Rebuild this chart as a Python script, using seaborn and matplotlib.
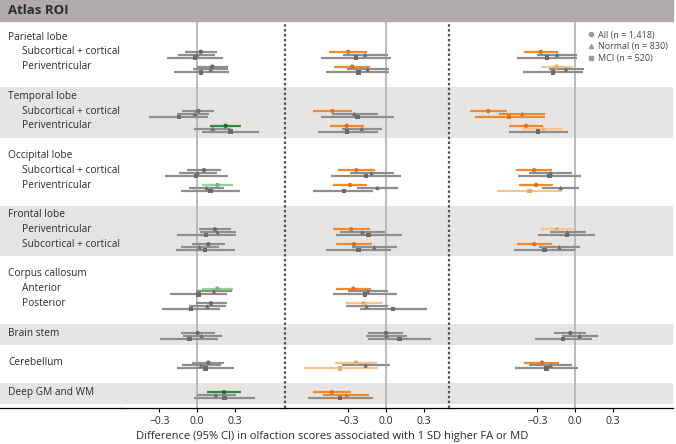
import matplotlib
matplotlib.use('Agg')
import matplotlib.pyplot as plt
from matplotlib.patches import Rectangle
from matplotlib.lines import Line2D
import seaborn as sns
import pandas as pd

# ---------------------------------------------------------------- data
groups = ['Parietal lobe', 'Temporal lobe', 'Occipital lobe', 'Frontal lobe',
          'Corpus callosum', 'Brain stem', 'Cerebellum', 'Deep GM and WM']
subrows = [['Subcortical + cortical', 'Periventricular'],
           ['Subcortical + cortical', 'Periventricular'],
           ['Subcortical + cortical', 'Periventricular'],
           ['Periventricular', 'Subcortical + cortical'],
           ['Anterior', 'Posterior'],
           [], [], []]
cohorts = ['All', 'Normal', 'MCI']
cohort_labels = ['All (n = 1,418)', 'Normal (n = 830)', 'MCI (n = 520)']
panels = ['WM FA', 'WM MD', 'GM MD']

# (estimate, lower, upper), one per data row, top to bottom
fa_all = [(0.030, -0.095, 0.157), (0.122, -0.003, 0.244), (0.011, -0.117, 0.138),
          (0.228, 0.103, 0.350), (0.056, -0.077, 0.191), (0.162, 0.037, 0.289),
          (0.143, 0.016, 0.268), (0.090, -0.037, 0.223), (0.162, 0.037, 0.284),
          (0.111, -0.011, 0.241), (0.005, -0.127, 0.143), (0.090, -0.042, 0.217),
          (0.215, 0.082, 0.350)]
fa_normal = [(0.000, -0.149, 0.143), (0.109, -0.029, 0.249), (-0.016, -0.162, 0.098),
             (0.125, -0.021, 0.270), (0.005, -0.143, 0.157), (0.077, -0.061, 0.215),
             (0.164, 0.024, 0.310), (0.021, -0.130, 0.175), (0.135, -0.008, 0.276),
             (0.082, -0.064, 0.231), (0.037, -0.114, 0.196), (0.032, -0.122, 0.188),
             (0.151, -0.003, 0.310)]
fa_mci = [(-0.016, -0.241, 0.209), (0.034, -0.183, 0.255), (-0.143, -0.379, 0.090),
          (0.268, 0.042, 0.493), (-0.008, -0.255, 0.244), (0.106, -0.130, 0.342),
          (0.074, -0.156, 0.310), (0.066, -0.167, 0.300), (0.011, -0.215, 0.236),
          (-0.048, -0.276, 0.183), (-0.061, -0.294, 0.170), (0.069, -0.156, 0.297),
          (0.220, -0.021, 0.461)]
fa_sig = ['nnn', 'nnn', 'nnn', 'gnn', 'nnn', 'hnn', 'nnn', 'nnn', 'hnn', 'nnn',
          'nnn', 'nnn', 'gnn']

md_all = [(-0.300, -0.451, -0.149), (-0.268, -0.411, -0.127), (-0.427, -0.583, -0.273),
          (-0.313, -0.446, -0.175), (-0.236, -0.384, -0.088), (-0.286, -0.424, -0.149),
          (-0.276, -0.419, -0.127), (-0.255, -0.398, -0.114), (-0.260, -0.400, -0.122),
          (-0.177, -0.321, -0.034), (0.000, -0.141, 0.138), (-0.239, -0.406, -0.069),
          (-0.432, -0.578, -0.278)]
md_normal = [(-0.167, -0.345, 0.013), (-0.146, -0.313, 0.024), (-0.252, -0.432, -0.066),
             (-0.193, -0.352, -0.034), (-0.114, -0.286, 0.064), (-0.069, -0.233, 0.093),
             (-0.188, -0.366, -0.008), (-0.093, -0.268, 0.085), (-0.143, -0.305, 0.019),
             (-0.154, -0.318, 0.013), (0.005, -0.159, 0.170), (-0.162, -0.353, 0.032),
             (-0.313, -0.499, -0.133)]
md_mci = [(-0.241, -0.515, 0.037), (-0.220, -0.477, 0.024), (-0.228, -0.515, 0.064),
          (-0.308, -0.543, -0.066), (-0.159, -0.438, 0.119), (-0.334, -0.583, -0.101),
          (-0.138, -0.400, 0.125), (-0.220, -0.477, 0.037), (-0.167, -0.419, 0.085),
          (0.058, -0.207, 0.324), (0.106, -0.141, 0.358), (-0.366, -0.652, -0.061),
          (-0.366, -0.618, -0.106)]
md_sig = ['onn', 'onn', 'onn', 'onn', 'onn', 'onn', 'onn', 'onn', 'onn', 'lnn',
          'nnn', 'lnl', 'oon']

gm_all = [(-0.273, -0.406, -0.138), (-0.146, -0.273, -0.018), (-0.690, -0.835, -0.543),
          (-0.390, -0.523, -0.257), (-0.326, -0.469, -0.185), (-0.310, -0.443, -0.177),
          (-0.146, -0.270, -0.018), (-0.324, -0.459, -0.185), None, None,
          (-0.037, -0.164, 0.088), (-0.263, -0.406, -0.125), None]
gm_normal = [(-0.143, -0.305, 0.018), (-0.072, -0.207, 0.072), (-0.419, -0.602, -0.239),
             (-0.252, -0.411, -0.093), (-0.193, -0.363, -0.024), (-0.114, -0.263, 0.034),
             (-0.058, -0.199, 0.088), (-0.125, -0.284, 0.040), None, None,
             (0.037, -0.106, 0.180), (-0.193, -0.363, -0.026), None]
gm_mci = [(-0.225, -0.459, 0.013), (-0.177, -0.411, 0.061), (-0.523, -0.796, -0.239),
          (-0.292, -0.525, -0.058), (-0.204, -0.451, 0.048), (-0.363, -0.623, -0.106),
          (-0.066, -0.292, 0.159), (-0.244, -0.485, 0.000), None, None,
          (-0.095, -0.318, 0.133), (-0.228, -0.477, 0.021), None]
gm_sig = ['onn', 'lnn', 'ooo', 'oln', 'onn', 'onl', 'lnn', 'onn', 'nnn', 'nnn',
          'nnn', 'onn', 'nnn']

# ---------------------------------------------------------------- style
line_col = {'n': '#8e8e8e', 'o': '#f08a2e', 'l': '#f8c58f', 'g': '#2e8b3e', 'h': '#98d098'}
mark_col = {'n': '#6a6a6a', 'o': '#e0701a', 'l': '#f2aa66', 'g': '#1e6b2c', 'h': '#70b870'}
markers = {'All': 'o', 'Normal': '^', 'MCI': 's'}
band_col = '#e6e5e4'
head_col = '#afabaa'
txt_col = '#2b2b2b'

W, H = 676, 444
top_px, bot_px = 21, 408
scale = 125.7          # pixels per unit of difference
y0, pitch = 37, 14.8
offsets = [0, 2.9, 5.8]

# row layout (pixel units down the page)
labels, data_y, bands = [], [], []
y = y0
for gi, (g, subs) in enumerate(zip(groups, subrows)):
    labels.append((g, y, 8))
    first = y
    if subs:
        for k, s in enumerate(subs):
            yy = y + (k + 1) * pitch
            labels.append((s, yy, 22))
            data_y.append(yy)
        last = y + len(subs) * pitch
        y += (len(subs) + 2) * pitch
    else:
        data_y.append(y)
        last = y
        y += 2 * pitch
    if gi % 2 == 1:
        bands.append((first - 9, last + 12))


def panel_frame(name, series, sig):
    rec = []
    for ci, (c, vals) in enumerate(zip(cohorts, series)):
        for ri, v in enumerate(vals):
            if v is None:
                continue
            code = sig[ri][ci]
            rec.append({'panel': name, 'cohort': c, 'y': data_y[ri] + offsets[ci],
                        'est': v[0], 'lo': v[1], 'hi': v[2],
                        'line': line_col[code], 'sig': code})
    return pd.DataFrame(rec)


frames = {
    'WM FA': panel_frame('WM FA', [fa_all, fa_normal, fa_mci], fa_sig),
    'WM MD': panel_frame('WM MD', [md_all, md_normal, md_mci], md_sig),
    'GM MD': panel_frame('GM MD', [gm_all, gm_normal, gm_mci], gm_sig),
}

# ---------------------------------------------------------------- figure
sns.set_theme(style='white')
plt.rcParams['font.family'] = ['Open Sans', 'DejaVu Sans']

fig = plt.figure(figsize=(W / 100, H / 100), dpi=100)


def px_axes(x0, x1):
    return fig.add_axes([x0 / W, 1 - bot_px / H, (x1 - x0) / W, (bot_px - top_px) / H])


# header band
fig.patches.append(Rectangle((0, 1 - top_px / H), 673 / W, top_px / H,
                             transform=fig.transFigure, color=head_col, zorder=0))
fig.text(8 / W, 1 - 10.5 / H, 'Atlas ROI', ha='left', va='center',
         fontsize=9.5, fontweight='bold', color=txt_col)

layout = {'WM FA': (197, 120, 285), 'WM MD': (386, 285, 449), 'GM MD': (575, 449, 673)}

for name in panels:
    zero, x0, x1 = layout[name]
    ax = px_axes(x0, x1)
    ax.patch.set_visible(False)
    df = frames[name]
    for b0, b1 in bands:
        ax.axhspan(b0, b1, color=band_col, lw=0, zorder=0)
    ax.axvline(0, color='#b5b5b5', lw=1.3, zorder=1)
    ax.hlines(df['y'], df['lo'], df['hi'], colors=df['line'], lw=1.6, zorder=3)
    sns.scatterplot(data=df, x='est', y='y', style='cohort', markers=markers,
                    hue='sig', palette=mark_col, s=10, linewidth=0,
                    legend=False, ax=ax, zorder=4)
    ax.set_xlim((x0 - zero) / scale, (x1 - zero) / scale)
    ax.set_ylim(bot_px, top_px)
    ax.set_xticks([-0.3, 0.0, 0.3])
    ax.set_xticklabels(['\u22120.3', '0.0', '0.3'])
    ax.set_yticks([])
    ax.set_xlabel('')
    ax.set_ylabel('')
    ax.text(0, 10.5, name, ha='center', va='center', fontsize=9.5,
            fontweight='bold', color=txt_col, clip_on=False)
    ax.tick_params(axis='x', bottom=True, length=3, width=0.8, color='black',
                   labelsize=7.5, pad=3, labelcolor=txt_col)
    if name != 'WM FA':
        ax.axvline(ax.get_xlim()[0], color='#505050', lw=1.6,
                   ls=(0, (1.1, 1.1)), clip_on=False, zorder=5)
    for sp in ['top', 'right', 'left']:
        ax.spines[sp].set_visible(False)
    ax.spines['bottom'].set_color('black')
    ax.spines['bottom'].set_linewidth(0.9)
    if name == 'GM MD':
        handles = [Line2D([], [], marker=markers[c], ls='', color='#9a9a9a',
                          markersize=3.0) for c in cohorts]
        ax.legend(handles, cohort_labels, loc='upper left', frameon=False,
                  bbox_to_anchor=(584 / W, 1 - 27 / H), bbox_transform=fig.transFigure,
                  fontsize=6.5, handlelength=0.7, handletextpad=0.4,
                  labelspacing=0.3, labelcolor='#444444', borderaxespad=0)

# label column, drawn on top of the panels
lab = px_axes(0, 120)
lab.set_zorder(5)
lab.patch.set_visible(False)
lab.set_xlim(0, 120)
lab.set_ylim(bot_px, top_px)
for b0, b1 in bands:
    lab.axhspan(b0, b1, color=band_col, lw=0, zorder=0)
for text, yy, xx in labels:
    lab.text(xx, yy, text, ha='left', va='center', fontsize=7.3, color=txt_col)
lab.set_xticks([])
lab.set_yticks([])
for sp in ['top', 'right', 'left']:
    lab.spines[sp].set_visible(False)
lab.spines['bottom'].set_color('black')
lab.spines['bottom'].set_linewidth(0.9)

fig.text(332 / W, 1 - 436 / H,
         'Difference (95% CI) in olfaction scores associated with 1 SD higher FA or MD',
         ha='center', va='center', fontsize=8, color=txt_col)

fig.savefig('out.png', dpi=100)
